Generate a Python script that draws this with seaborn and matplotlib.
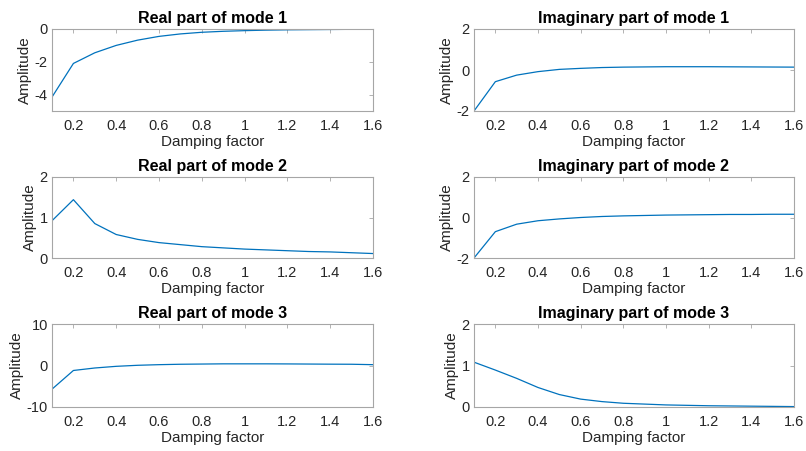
import numpy as np
import pandas as pd
import seaborn as sns
import matplotlib
matplotlib.use("Agg")
import matplotlib.pyplot as plt

damping = [0.1, 0.2, 0.3, 0.4, 0.5, 0.6, 0.7, 0.8, 0.9, 1.0, 1.1, 1.2, 1.3, 1.4, 1.5, 1.6]

real_mode1 = [-4.15, -2.1, -1.45, -1.0, -0.68, -0.45, -0.3, -0.2, -0.14, -0.1, -0.07, -0.05, -0.04, -0.03, -0.02, -0.01]
imag_mode1 = [-2.0, -0.57, -0.25, -0.08, 0.03, 0.08, 0.12, 0.14, 0.15, 0.16, 0.16, 0.16, 0.155, 0.15, 0.145, 0.14]
real_mode2 = [0.92, 1.44, 0.85, 0.58, 0.46, 0.38, 0.33, 0.28, 0.25, 0.22, 0.2, 0.18, 0.16, 0.15, 0.13, 0.11]
imag_mode2 = [-2.0, -0.7, -0.33, -0.16, -0.07, 0.0, 0.05, 0.08, 0.1, 0.12, 0.13, 0.14, 0.15, 0.15, 0.16, 0.16]
real_mode3 = [-5.7, -1.2, -0.6, -0.2, 0.05, 0.2, 0.3, 0.35, 0.4, 0.4, 0.4, 0.38, 0.35, 0.32, 0.3, 0.2]
imag_mode3 = [1.08, 0.89, 0.69, 0.47, 0.3, 0.19, 0.13, 0.09, 0.07, 0.05, 0.04, 0.03, 0.025, 0.02, 0.015, 0.01]

titles = ["Real part of mode 1", "Imaginary part of mode 1",
          "Real part of mode 2", "Imaginary part of mode 2",
          "Real part of mode 3", "Imaginary part of mode 3"]
series = [real_mode1, imag_mode1, real_mode2, imag_mode2, real_mode3, imag_mode3]
ylims = [(-5, 0), (-2, 2), (0, 2), (-2, 2), (-10, 10), (0, 2)]
yticks = [[-4, -2, 0], [-2, 0, 2], [0, 1, 2], [-2, 0, 2], [-10, 0, 10], [0, 1, 2]]
xticks = [0.2, 0.4, 0.6, 0.8, 1.0, 1.2, 1.4, 1.6]

sns.set_theme(style="white")
plt.rcParams['font.family'] = ['Liberation Sans', 'DejaVu Sans']

W, H = 806, 451
fig = plt.figure(figsize=(W / 100, H / 100), dpi=100)

col_x = [(52, 373), (474, 794)]
row_y = [(29, 111), (177, 258), (324, 407)]

edge = "#a6a6a6"
txt = "#262626"

for i, (title, vals) in enumerate(zip(titles, series)):
    r, c = divmod(i, 2)
    x0, x1 = col_x[c]
    y0, y1 = row_y[r]
    ax = fig.add_axes([x0 / W, 1 - y1 / H, (x1 - x0) / W, (y1 - y0) / H])
    df = pd.DataFrame({"Damping factor": damping, "Amplitude": vals})
    sns.lineplot(data=df, x="Damping factor", y="Amplitude", ax=ax,
                 color="#0072BD", linewidth=0.9)
    ax.set_xlim(0.1, 1.6)
    ax.set_ylim(*ylims[i])
    ax.set_xticks(xticks)
    ax.set_xticklabels([f"{t:g}" for t in xticks])
    ax.set_yticks(yticks[i])
    ax.set_yticklabels([f"{t:g}" for t in yticks[i]])
    ax.tick_params(direction="in", length=3, width=0.6, color=edge,
                   top=True, right=True, labelsize=10.5, labelcolor=txt)
    ax.tick_params(axis="x", pad=6)
    ax.tick_params(axis="y", pad=3)
    for s in ax.spines.values():
        s.set_color(edge)
        s.set_linewidth(0.8)
    ax.set_xlabel("Damping factor", fontsize=11, color=txt, labelpad=1)
    ax.set_ylabel("Amplitude", fontsize=11, color=txt, labelpad=2)
    ax.set_title(title, fontsize=11.5, fontweight="bold", color="black", pad=4)
    ax.grid(False)

fig.savefig("out.png", dpi=100, facecolor="white")
